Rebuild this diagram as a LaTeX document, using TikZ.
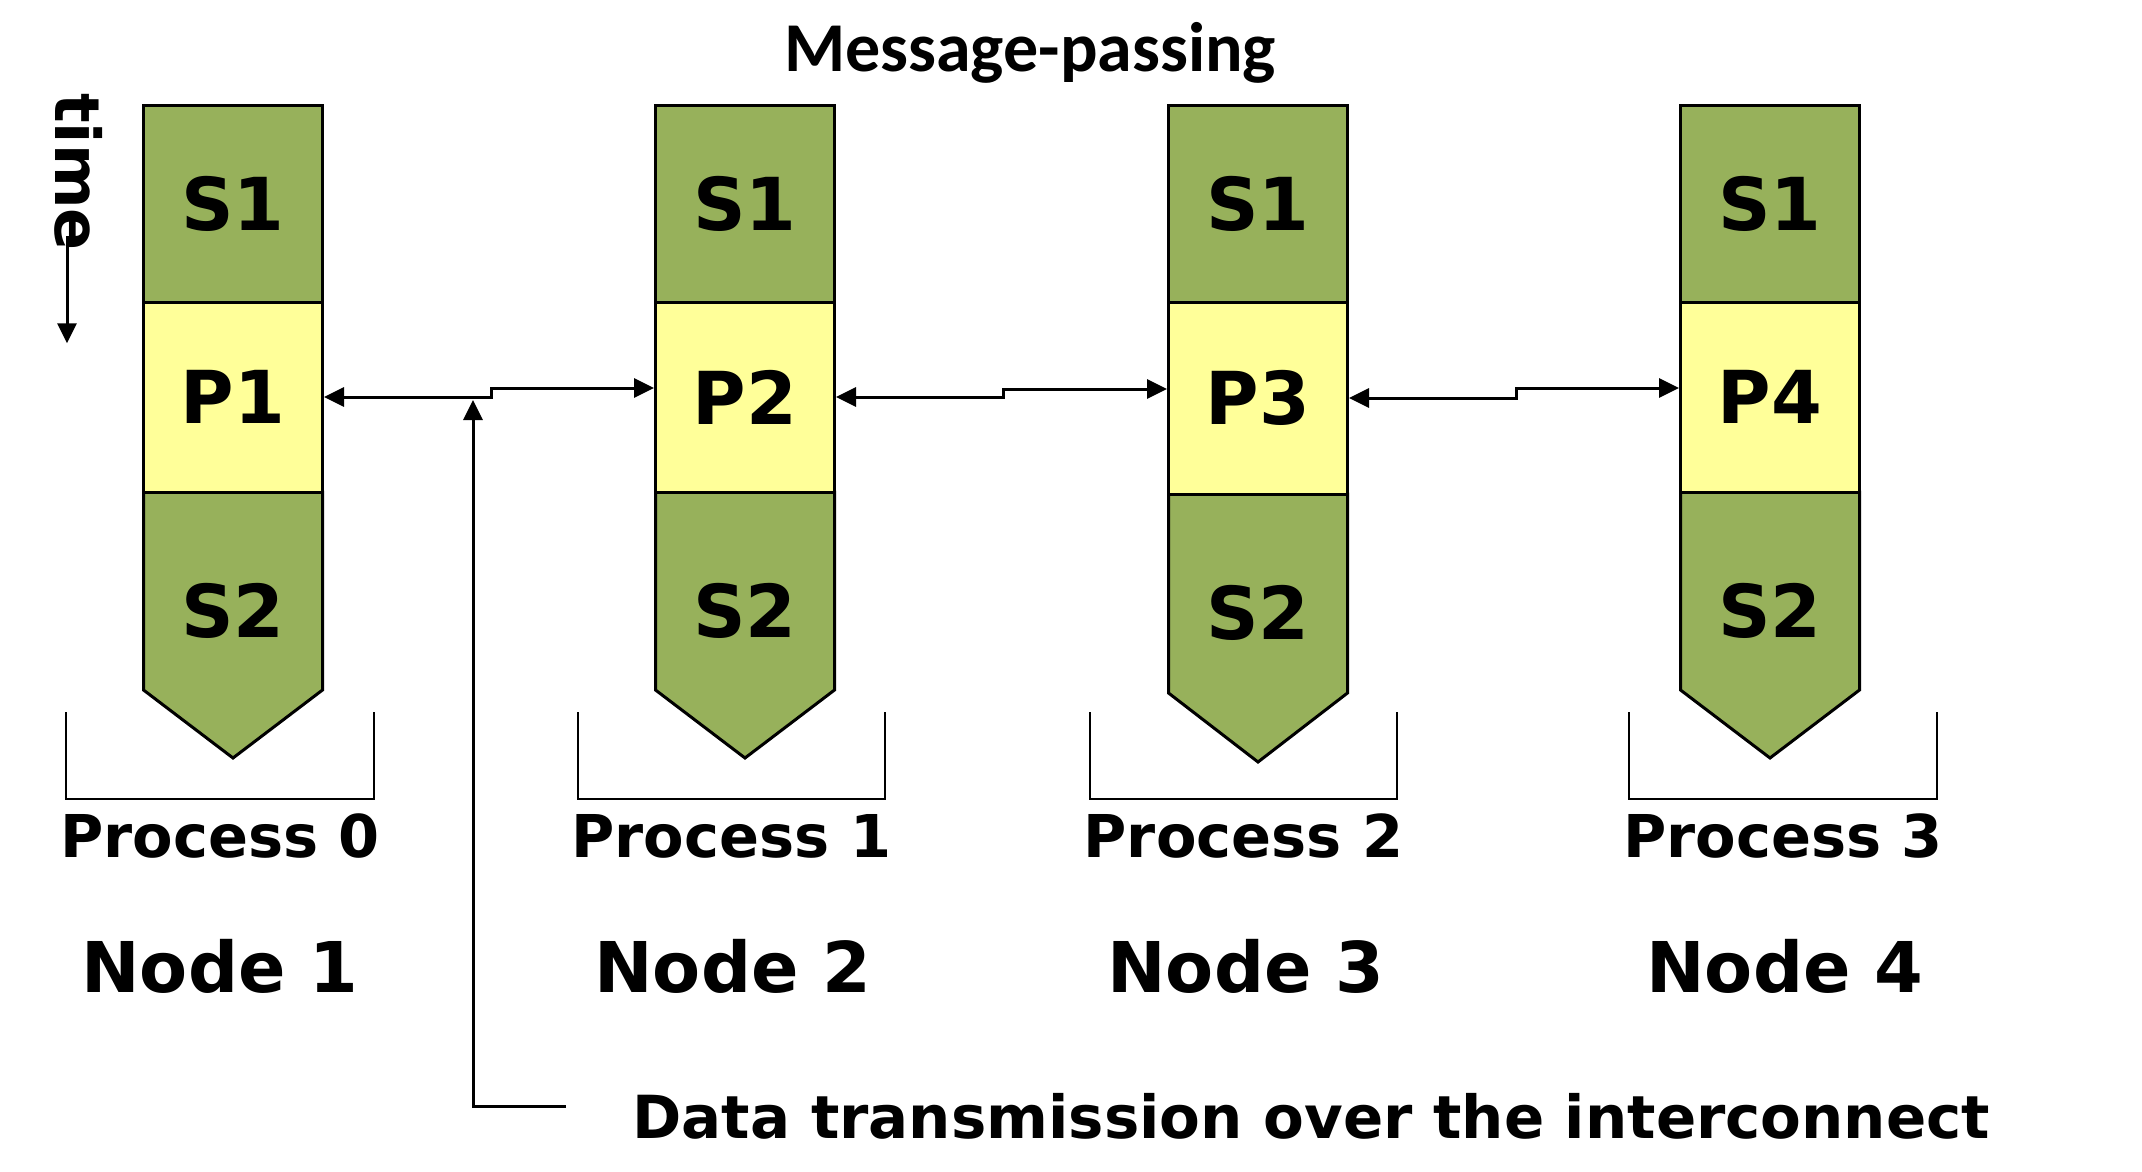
\documentclass[tikz,border=0pt]{standalone}
\usepackage{fontspec}
\setmainfont{DejaVu Sans}
\newfontfamily\msgfont{Carlito}
\usetikzlibrary{arrows.meta}
\definecolor{serialgreen}{RGB}{151,177,91}
\definecolor{paryellow}{RGB}{255,255,153}

\begin{document}
\begin{tikzpicture}
[-,line width=1.5pt,x=0.5pt,y=-0.5pt,%
  >={Triangle[length=10pt,width=9.5pt]},%
  every node/.style={inner sep=0pt},%
  big/.style={font=\fontsize{36.5}{41}\selectfont\bfseries},%
  stage/.style={big,shape=rectangle,draw,minimum width=89.5pt},%
  serial/.style={stage,fill=serialgreen,minimum height=98pt},%
  parallel/.style={stage,fill=paryellow,minimum height=95pt},%
  tail/.style={draw,fill=serialgreen},%
  bracket/.style={line width=1pt},%
  proc/.style={anchor=base,font=\fontsize{29.5}{34}\selectfont\bfseries},%
  host/.style={anchor=base,font=\fontsize{35}{40}\selectfont\bfseries}]
\useasboundingbox (0,0) rectangle (2142,1172);
\node[anchor=base,font=\msgfont\fontsize{35}{40}\selectfont\bfseries] (title) at (1030,72) {Message-passing};
\node[rotate=-90,font=\fontsize{31}{36}\selectfont\bfseries] (clock) at (79,172) {time};
\draw[->] ([xshift=-6pt,yshift=8pt]clock.east) -- ++(0,107);
% process 0
\node[serial] (ser0) at (233,204) {S1};
\filldraw[tail] (233,492) ++(-89.5,0) -- ++(179,0) -- ++(0,198) -- ++(-89.5,68) -- ++(-89.5,-68) -- cycle;
\node[parallel] (par0) at (233,397) {P1};
\node[big] (fin0) at (233,611) {S2};
\draw[bracket] (66,712) |- (374,799) -- (374,712);
\node[proc] (proc0) at (220,857) {Process 0};
\node[host] (host1) at (220,992) {Node 1};
% process 1
\node[serial] (ser1) at (745,204) {S1};
\filldraw[tail] (745,492) ++(-89.5,0) -- ++(179,0) -- ++(0,198) -- ++(-89.5,68) -- ++(-89.5,-68) -- cycle;
\node[parallel] (par1) at (745,397) {P2};
\node[big] (fin1) at (745,611) {S2};
\draw[bracket] (578,712) |- (885,799) -- (885,712);
\node[proc] (proc1) at (731.5,857) {Process 1};
\node[host] (host2) at (733,992) {Node 2};
% process 2
\node[serial] (ser2) at (1258,204) {S1};
\filldraw[tail] (1258,494) ++(-89.5,0) -- ++(179,0) -- ++(0,199) -- ++(-89.5,69) -- ++(-89.5,-69) -- cycle;
\node[parallel,minimum height=96pt] (par2) at (1258,398) {P3};
\node[big] (fin2) at (1258,613) {S2};
\draw[bracket] (1090,712) |- (1397,799) -- (1397,712);
\node[proc] (proc2) at (1243.5,857) {Process 2};
\node[host] (host3) at (1246,992) {Node 3};
% process 3
\node[serial] (ser3) at (1770,204) {S1};
\filldraw[tail] (1770,492) ++(-89.5,0) -- ++(179,0) -- ++(0,198) -- ++(-89.5,68) -- ++(-89.5,-68) -- cycle;
\node[parallel] (par3) at (1770,397) {P4};
\node[big] (fin3) at (1770,611) {S2};
\draw[bracket] (1629,712) |- (1937,799) -- (1937,712);
\node[proc] (proc3) at (1783,857) {Process 3};
\node[host] (host4) at (1785,992) {Node 4};
% messages
\draw[<->] (par0.east) -- ++(83.5pt,0) |- ([yshift=4.5pt]par1.west);
\draw[<->] (par1.east) -- ++(83.5pt,0) |- ([yshift=4.5pt]par2.west);
\draw[<->] (par2.east) -- ++(83.5pt,0) |- ([yshift=4.5pt]par3.west);
\coordinate (lead) at (566,1106);
\coordinate (bend) at (473,1106);
\draw[->,shorten >=1.5pt] (lead) -- (bend) -- (bend |- par0.east);
\node[anchor=base west,font=\fontsize{29.7}{35}\selectfont\bfseries] (note) at (631,1138) {Data transmission over the interconnect};
\end{tikzpicture}
\end{document}
